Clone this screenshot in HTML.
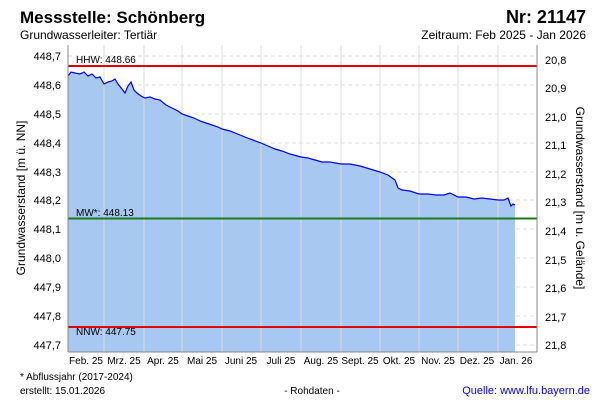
<!DOCTYPE html><html><head><style>body{margin:0;background:#fff}svg{font-family:"Liberation Sans",sans-serif}</style></head><body>
<svg width="600" height="400" xmlns="http://www.w3.org/2000/svg">
<rect width="600" height="400" fill="#fff"/>
<text x="20" y="23" font-size="17" font-weight="bold">Messstelle: Schönberg</text>
<text x="586" y="23" font-size="18" font-weight="bold" text-anchor="end">Nr: 21147</text>
<text x="20" y="39" font-size="12">Grundwasserleiter: Tertiär</text>
<text x="586" y="39" font-size="12" text-anchor="end">Zeitraum: Feb 2025 - Jan 2026</text>
<g stroke="#ddd" stroke-dasharray="4,3">
<line x1="68" x2="537" y1="56" y2="56"/><line x1="68" x2="537" y1="85" y2="85"/><line x1="68" x2="537" y1="114" y2="114"/><line x1="68" x2="537" y1="143" y2="143"/><line x1="68" x2="537" y1="172" y2="172"/><line x1="68" x2="537" y1="200" y2="200"/><line x1="68" x2="537" y1="229" y2="229"/><line x1="68" x2="537" y1="258" y2="258"/><line x1="68" x2="537" y1="287" y2="287"/><line x1="68" x2="537" y1="316" y2="316"/><line x1="68" x2="537" y1="345" y2="345"/>
<line y1="45" y2="352" x1="104" x2="104"/><line y1="45" y2="352" x1="144" x2="144"/><line y1="45" y2="352" x1="182" x2="182"/><line y1="45" y2="352" x1="222" x2="222"/><line y1="45" y2="352" x1="261" x2="261"/><line y1="45" y2="352" x1="301" x2="301"/><line y1="45" y2="352" x1="341" x2="341"/><line y1="45" y2="352" x1="380" x2="380"/><line y1="45" y2="352" x1="419" x2="419"/><line y1="45" y2="352" x1="458" x2="458"/><line y1="45" y2="352" x1="498" x2="498"/>
</g>
<path d="M68,76 L71,72 L75,73 L80,74 L84,72 L88,76 L92,74 L96,78 L100,77 L104,84 L108,82 L112,81 L115,79 L118,84 L122,89 L125,93 L128,86 L131,82 L134,90 L137,93 L141,96 L145,98 L150,97 L155,99 L160,100 L166,105 L172,108 L178,111 L182,114 L188,116 L194,118 L200,121 L206,123 L212,125 L218,127 L222,129 L230,131 L240,135 L250,139 L261,143 L268,146 L275,149 L282,151 L290,154 L301,157 L308,158 L315,160 L322,162 L330,162 L341,164 L350,164 L360,166 L370,169 L380,172 L388,175 L395,180 L398,188 L402,190 L410,191 L419,194 L428,194 L436,195 L444,195 L450,193 L458,197 L466,197 L474,199 L482,198 L490,199 L498,200 L504,200 L508,198 L511,206 L513,204 L515,205 L515,352 L68,352 Z" fill="#a7c8f0" stroke="none"/>
<g stroke="#ddd"><line y1="45" y2="352" x1="104" x2="104"/><line y1="45" y2="352" x1="144" x2="144"/><line y1="45" y2="352" x1="182" x2="182"/><line y1="45" y2="352" x1="222" x2="222"/><line y1="45" y2="352" x1="261" x2="261"/><line y1="45" y2="352" x1="301" x2="301"/><line y1="45" y2="352" x1="341" x2="341"/><line y1="45" y2="352" x1="380" x2="380"/><line y1="45" y2="352" x1="419" x2="419"/><line y1="45" y2="352" x1="458" x2="458"/><line y1="45" y2="352" x1="498" x2="498"/></g>
<path d="M68,76 L71,72 L75,73 L80,74 L84,72 L88,76 L92,74 L96,78 L100,77 L104,84 L108,82 L112,81 L115,79 L118,84 L122,89 L125,93 L128,86 L131,82 L134,90 L137,93 L141,96 L145,98 L150,97 L155,99 L160,100 L166,105 L172,108 L178,111 L182,114 L188,116 L194,118 L200,121 L206,123 L212,125 L218,127 L222,129 L230,131 L240,135 L250,139 L261,143 L268,146 L275,149 L282,151 L290,154 L301,157 L308,158 L315,160 L322,162 L330,162 L341,164 L350,164 L360,166 L370,169 L380,172 L388,175 L395,180 L398,188 L402,190 L410,191 L419,194 L428,194 L436,195 L444,195 L450,193 L458,197 L466,197 L474,199 L482,198 L490,199 L498,200 L504,200 L508,198 L511,206 L513,204 L515,205" fill="none" stroke="#0000ff" stroke-width="1.2"/>
<line x1="68" x2="537" y1="66" y2="66" stroke="#e00000" stroke-width="2"/>
<line x1="68" x2="537" y1="218.5" y2="218.5" stroke="#1a7a1a" stroke-width="2"/>
<line x1="68" x2="537" y1="327" y2="327" stroke="#e00000" stroke-width="2"/>
<text x="76" y="63" font-size="10">HHW: 448.66</text>
<text x="76" y="216" font-size="10">MW*: 448.13</text>
<text x="76" y="335" font-size="10">NNW: 447.75</text>
<g stroke="#888" fill="none"><line x1="68" y1="45" x2="68" y2="352"/><line x1="537" y1="45" x2="537" y2="352"/><line x1="68" y1="352" x2="537" y2="352"/></g>
<g font-size="11" text-anchor="end">
<text x="61" y="60">448,7</text><text x="61" y="89">448,6</text><text x="61" y="118">448,5</text><text x="61" y="147">448,4</text><text x="61" y="176">448,3</text><text x="61" y="204">448,2</text><text x="61" y="233">448,1</text><text x="61" y="262">448,0</text><text x="61" y="291">447,9</text><text x="61" y="320">447,8</text><text x="61" y="349">447,7</text>
</g>
<g font-size="11">
<text x="545" y="64">20,8</text><text x="545" y="92">20,9</text><text x="545" y="121">21,0</text><text x="545" y="149">21,1</text><text x="545" y="178">21,2</text><text x="545" y="206">21,3</text><text x="545" y="235">21,4</text><text x="545" y="264">21,5</text><text x="545" y="292">21,6</text><text x="545" y="321">21,7</text><text x="545" y="349">21,8</text>
</g>
<g font-size="10" text-anchor="middle">
<text x="86" y="364">Feb. 25</text><text x="124" y="364">Mrz. 25</text><text x="163" y="364">Apr. 25</text><text x="202" y="364">Mai 25</text><text x="241" y="364">Juni 25</text><text x="281" y="364">Juli 25</text><text x="321" y="364">Aug. 25</text><text x="360" y="364">Sept. 25</text><text x="399" y="364">Okt. 25</text><text x="438" y="364">Nov. 25</text><text x="477" y="364">Dez. 25</text><text x="516" y="364">Jan. 26</text>
</g>
<text transform="translate(25,198) rotate(-90)" font-size="12" text-anchor="middle">Grundwasserstand [m ü. NN]</text>
<text transform="translate(576,198) rotate(90)" font-size="12" text-anchor="middle">Grundwasserstand [m u. Gelände]</text>
<text x="20" y="380" font-size="10">* Abflussjahr (2017-2024)</text>
<text x="20" y="394" font-size="10">erstellt:  15.01.2026</text>
<text x="312" y="394" font-size="10" text-anchor="middle">- Rohdaten -</text>
<text x="590" y="394" font-size="11" fill="#0000ff" text-anchor="end">Quelle: www.lfu.bayern.de</text>
</svg></body></html>
